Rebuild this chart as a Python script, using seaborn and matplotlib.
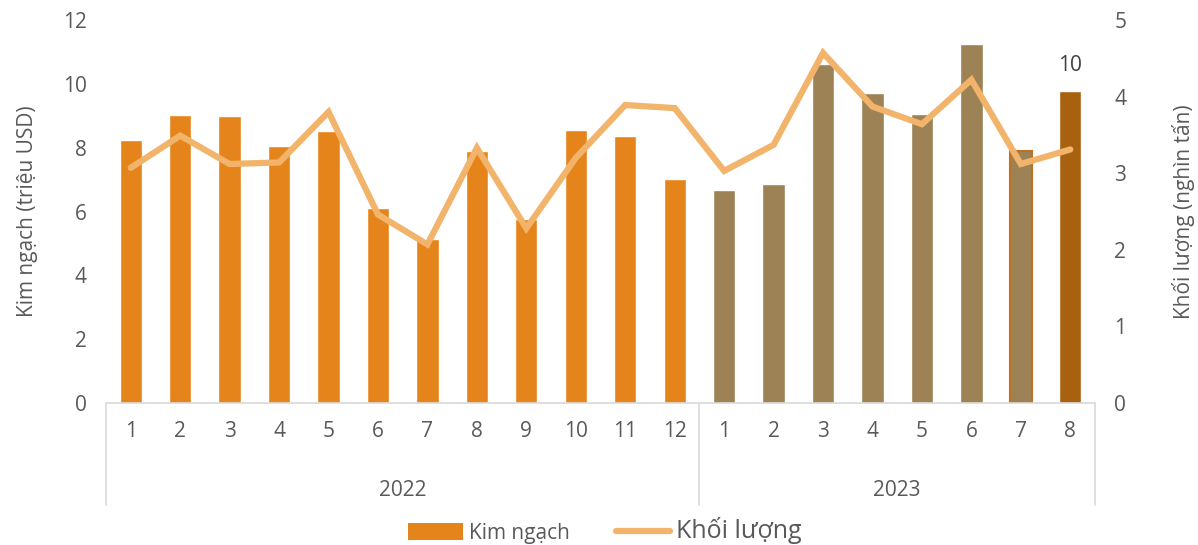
import matplotlib
matplotlib.use("Agg")
import matplotlib.pyplot as plt
import matplotlib.transforms as mtransforms
from matplotlib.patches import Patch
from matplotlib.lines import Line2D
import seaborn as sns
import pandas as pd
import numpy as np

# ---- data ----
years = ["2022", "2023"]
months_2022 = ["1", "2", "3", "4", "5", "6", "7", "8", "9", "10", "11", "12"]
months_2023 = ["1", "2", "3", "4", "5", "6", "7", "8"]
kim_ngach_2022 = [8.25, 9.03, 9.0, 8.06, 8.53, 6.12, 5.15, 7.88, 5.75, 8.55, 8.38, 7.03]
kim_ngach_2023 = [6.67, 6.85, 10.63, 9.7, 9.05, 11.25, 7.88, 9.76]
khoi_luong_2022 = [3.07, 3.49, 3.12, 3.14, 3.80, 2.46, 2.07, 3.33, 2.28, 3.20, 3.89, 3.85]
khoi_luong_2023 = [3.03, 3.37, 4.57, 3.87, 3.64, 4.22, 3.12, 3.31]
last_label = "10"

c_2022 = "#E5841A"
c_2023 = "#9C8255"
c_last = "#A8610F"
c_edge7 = "#C0701E"
c_line = "#F2B46B"
grey_txt = "#595959"
grey_line = "#D9D9D9"
fs = 15

sns.set_theme(style="white")
plt.rcParams["font.family"] = ["Open Sans", "DejaVu Sans"]

months = months_2022 + months_2023
keys = [f"{y}-{m}" for y, ms in zip(years, [months_2022, months_2023]) for m in ms]
df = pd.DataFrame({
    "key": keys,
    "month": months,
    "kim": kim_ngach_2022 + kim_ngach_2023,
    "kl": khoi_luong_2022 + khoi_luong_2023,
})
df["pos"] = np.arange(len(df))
colors = [c_2022] * len(months_2022) + [c_2023] * (len(months_2023) - 1) + [c_last]

fig = plt.figure(figsize=(11.98, 5.45), dpi=100)
ax = fig.add_axes([106 / 1198, 1 - 403 / 545, (1095 - 106) / 1198, (403 - 20) / 545])

sns.barplot(data=df, x="key", y="kim", hue="key", palette=colors, legend=False,
            width=0.45, ax=ax, saturation=1, order=keys, hue_order=keys)
# July 2023 bar edge
bars = ax.patches
bars[len(months_2022) + 6].set_edgecolor(c_edge7)
bars[len(months_2022) + 6].set_linewidth(1.5)

ax.set_ylim(0, 12)
ax.set_yticks(np.arange(0, 13, 2))
ax.set_xlim(-0.5, len(df) - 0.5)
ax.set_xticks(df["pos"])
ax.set_xticklabels(df["month"])
ax.tick_params(axis="both", length=0, labelsize=fs, colors=grey_txt, pad=14)
ax.tick_params(axis="x", pad=13)
ax.set_xlabel("")
ax.set_ylabel("Kim ngạch (triệu USD)", fontsize=fs, color=grey_txt, labelpad=18)
for s in ["top", "right", "left"]:
    ax.spines[s].set_visible(False)
ax.spines["bottom"].set_color(grey_line)
ax.spines["bottom"].set_linewidth(1.2)

# data label for last bar
ax.text(df["pos"].iloc[-1], df["kim"].iloc[-1] + 0.5, last_label, ha="center", va="bottom",
        fontsize=fs, color="#404040")

# line on secondary axis
ax2 = ax.twinx()
sns.lineplot(data=df, x="pos", y="kl", ax=ax2, color=c_line, linewidth=4.5,
             solid_capstyle="round", solid_joinstyle="miter")
ax2.set_ylim(0, 5)
ax2.set_yticks(np.arange(0, 6, 1))
ax2.tick_params(axis="y", length=0, labelsize=fs, colors=grey_txt, pad=14)
ax2.set_ylabel("Khối lượng (nghìn tấn)", fontsize=fs, color=grey_txt, labelpad=33)
for s in ["top", "right", "left", "bottom"]:
    ax2.spines[s].set_visible(False)
ax2.set_xlabel("")

# multi-level category axis
trans = mtransforms.blended_transform_factory(ax.transData, ax.transAxes)
bottom_y = -(505 - 403) / (403 - 20)
counts = [len(months_2022), len(months_2023)]
start = -0.5
edges = [start]
for yr, n in zip(years, counts):
    mid = start + n / 2
    ax.text(mid, -(490 - 403) / (403 - 20), yr, transform=trans, ha="center", va="center",
            fontsize=fs, color=grey_txt)
    start += n
    edges.append(start)
for e in edges:
    ax.add_line(Line2D([e, e], [0, bottom_y], transform=trans, color=grey_line,
                       linewidth=1.2, clip_on=False))

# legend
handles = [Patch(facecolor=c_2022, edgecolor="none"),
           Line2D([0], [0], color=c_line, linewidth=4.5, solid_capstyle="round")]
leg = fig.legend(handles, ["Kim ngạch", "Khối lượng"], loc="center",
                 bbox_to_anchor=(0.505, 1 - 531 / 545), ncol=2, frameon=False,
                 fontsize=fs, handlelength=2.6, handleheight=0.9, columnspacing=2.2,
                 handletextpad=0.3)
for t in leg.get_texts():
    t.set_color(grey_txt)
leg.get_texts()[1].set_fontsize(18)

fig.savefig("out.png", dpi=100)
